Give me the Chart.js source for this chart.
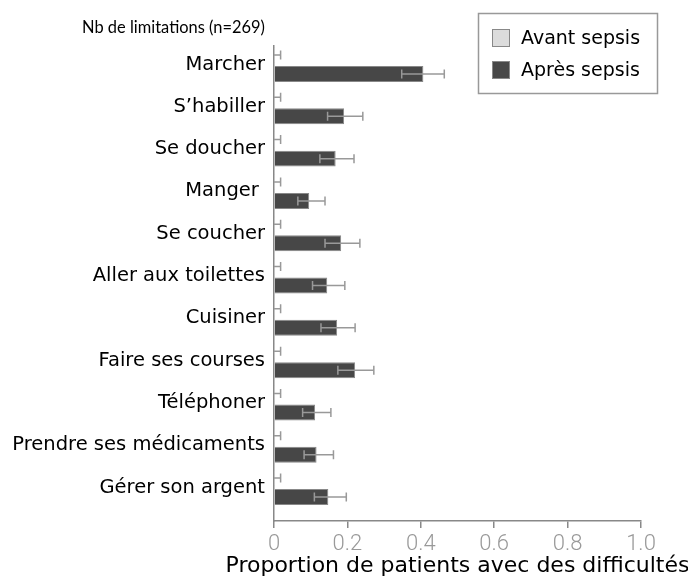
<!DOCTYPE html>
<html>
<head>
<meta charset="utf-8">
<script src="https://cdn.jsdelivr.net/npm/chart.js@4"></script>
<style>
  html, body { margin: 0; padding: 0; background: #fff; }
  #wrap { width: 688px; height: 583px; }
</style>
</head>
<body>
<div id="wrap"><canvas id="chart" width="688" height="583"></canvas></div>
<script>
// Data
const categories = ['Marcher', 'S\u2019habiller', 'Se doucher', 'Manger ', 'Se coucher', 'Aller aux toilettes',
  'Cuisiner', 'Faire ses courses', 'Téléphoner', 'Prendre ses médicaments', 'Gérer son argent'];
const seriesNames = ['Avant sepsis', 'Après sepsis'];
const avant = [0.003, 0.003, 0.003, 0.003, 0.003, 0.003, 0.003, 0.003, 0.003, 0.003, 0.003];
const avantLow = [0, 0, 0, 0, 0, 0, 0, 0, 0, 0, 0];
const avantHigh = [0.018, 0.018, 0.018, 0.018, 0.018, 0.018, 0.018, 0.018, 0.018, 0.018, 0.018];
const apres = [0.407, 0.191, 0.168, 0.096, 0.183, 0.145, 0.172, 0.221, 0.112, 0.116, 0.148];
const apresLow = [0.348, 0.146, 0.125, 0.065, 0.139, 0.105, 0.128, 0.174, 0.078, 0.082, 0.110];
const apresHigh = [0.464, 0.242, 0.218, 0.139, 0.234, 0.193, 0.221, 0.272, 0.155, 0.162, 0.197];
const xTicks = [0, 0.2, 0.4, 0.6, 0.8, 1.0];
const yTitle = 'Nb de limitations (n=269)';
const xTitle = 'Proportion de patients avec des difficultés';

const errors = [
  { low: avantLow, high: avantHigh },
  { low: apresLow, high: apresHigh }
];

// Error bars drawn through the scales
const errorBars = {
  id: 'errorBars',
  afterDatasetsDraw(chart) {
    const ctx = chart.ctx;
    const xs = chart.scales.x;
    chart.data.datasets.forEach((ds, di) => {
      const meta = chart.getDatasetMeta(di);
      meta.data.forEach((bar, i) => {
        const x1 = xs.getPixelForValue(errors[di].low[i]);
        const x2 = xs.getPixelForValue(errors[di].high[i]);
        const y = bar.y;
        ctx.save();
        ctx.strokeStyle = '#999';
        ctx.lineWidth = 1.5;
        ctx.beginPath();
        ctx.moveTo(x1, y); ctx.lineTo(x2, y);
        if (di === 1) { ctx.moveTo(x1, y - 4.5); ctx.lineTo(x1, y + 4.5); }
        ctx.moveTo(x2, y - 4.5); ctx.lineTo(x2, y + 4.5);
        ctx.stroke();
        ctx.restore();
      });
    });
  }
};

// Titles and boxed legend (x title may run past the canvas edge, like the original)
const extras = {
  id: 'extras',
  afterDraw(chart) {
    const ctx = chart.ctx;
    const area = chart.chartArea;
    ctx.save();
    ctx.fillStyle = '#000';
    ctx.font = '17.5px Lato';
    ctx.textAlign = 'right';
    ctx.textBaseline = 'middle';
    ctx.fillText(yTitle, area.left - 9, 27, 183);

    ctx.font = '22px "DejaVu Sans"';
    ctx.textAlign = 'center';
    ctx.textBaseline = 'alphabetic';
    ctx.fillText(xTitle, (area.left + area.right) / 2, 572);

    // legend
    ctx.strokeStyle = '#999';
    ctx.lineWidth = 1.5;
    ctx.strokeRect(478.5, 13.5, 179, 80);
    ctx.font = '19px "DejaVu Sans"';
    ctx.textAlign = 'left';
    ctx.textBaseline = 'middle';
    chart.data.datasets.forEach((ds, i) => {
      const y = 38 + i * 32;
      ctx.fillStyle = ds.backgroundColor;
      ctx.fillRect(492, y - 9, 18, 18);
      ctx.strokeStyle = '#888';
      ctx.lineWidth = 1;
      ctx.strokeRect(492.5, y - 8.5, 17, 17);
      ctx.fillStyle = '#000';
      ctx.fillText(ds.label, 521, y + 1);
    });
    ctx.restore();
  }
};

new Chart(document.getElementById('chart'), {
  type: 'bar',
  data: {
    datasets: [
      {
        label: seriesNames[0],
        data: categories.map((c, i) => ({ x: avant[i], y: i })),
        backgroundColor: '#dcdcdc',
        borderColor: '#999',
        borderWidth: 1
      },
      {
        label: seriesNames[1],
        data: categories.map((c, i) => ({ x: apres[i], y: i })),
        backgroundColor: '#474747',
        borderColor: '#888',
        borderWidth: 1
      }
    ]
  },
  plugins: [errorBars, extras],
  options: {
    indexAxis: 'y',
    responsive: false,
    animation: false,
    categoryPercentage: 0.9,
    barPercentage: 0.84,
    layout: { padding: { top: 46, right: 47, left: 0, bottom: 0 } },
    plugins: { legend: { display: false }, tooltip: { enabled: false } },
    scales: {
      x: {
        type: 'linear',
        min: 0,
        max: 1,
        afterBuildTicks: (scale) => { scale.ticks = xTicks.map(v => ({ value: v })); },
        afterFit: (scale) => { scale.height = 62; },
        grid: { display: true, drawOnChartArea: false, drawTicks: true, tickLength: 7, color: '#888', lineWidth: 1.5 },
        border: { display: true, color: '#888', width: 1.5 },
        ticks: {
          padding: 3,
          color: '#999',
          font: { family: 'Roboto', weight: '300', size: 22 },
          callback: (v) => v === 0 ? '0' : v.toFixed(1)
        },
        title: { display: false }
      },
      y: {
        type: 'linear',
        reverse: true,
        offset: false,
        min: -0.437,
        max: 10.79,
        afterBuildTicks: (scale) => { scale.ticks = categories.map((c, i) => ({ value: i })); },
        afterFit: (scale) => { scale.width = 274; },
        grid: { display: false, drawTicks: false, offset: false },
        border: { display: true, color: '#888', width: 1.5 },
        ticks: {
          padding: 9,
          color: '#000',
          font: { family: 'DejaVu Sans', size: 19.5 },
          callback: (v) => categories[v]
        }
      }
    }
  }
});
</script>
</body>
</html>
